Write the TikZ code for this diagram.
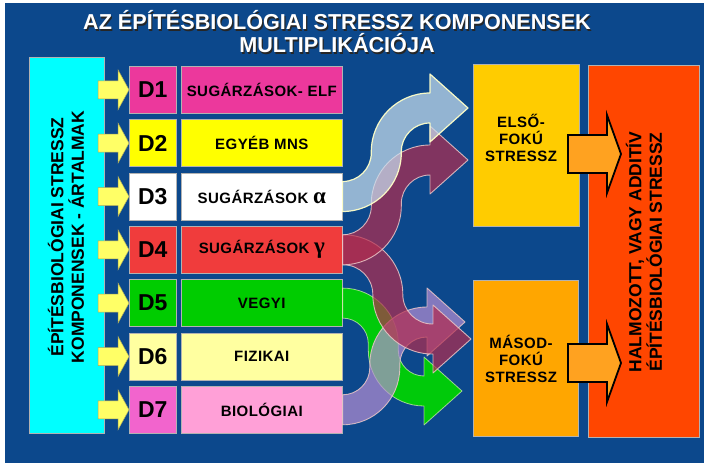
\documentclass[tikz,border=0pt]{standalone}
\usepackage{fontspec}
\setmainfont{Liberation Sans}
\newfontfamily\grk{Liberation Serif}
\newfontfamily\spaced[LetterSpace=3]{Liberation Sans}
\usetikzlibrary{calc}
\definecolor{bgblue}{RGB}{12,72,140}
\definecolor{cyanbox}{RGB}{0,255,255}
\definecolor{pinkA}{RGB}{236,56,156}
\definecolor{yelA}{RGB}{255,255,0}
\definecolor{redA}{RGB}{240,60,60}
\definecolor{greenA}{RGB}{0,204,0}
\definecolor{paleY}{RGB}{255,255,160}
\definecolor{magA}{RGB}{242,100,205}
\definecolor{pinkB}{RGB}{255,160,215}
\definecolor{goldA}{RGB}{255,204,0}
\definecolor{orangeA}{RGB}{255,166,0}
\definecolor{redOr}{RGB}{255,70,0}
\definecolor{arrOr}{RGB}{255,162,32}
\definecolor{smallY}{RGB}{255,255,102}
\definecolor{lblue}{RGB}{200,222,238}
\definecolor{maroon}{RGB}{180,44,78}
\definecolor{lav}{RGB}{182,142,212}
\definecolor{grArr}{RGB}{0,214,0}
\definecolor{edgeY}{RGB}{255,255,200}
\definecolor{edgeP}{RGB}{235,200,200}
\def\SA{15}\def\SH{34}\def\SL{38}\def\Kk{0.5523}
\newcommand\sarrow[3]{%
  \path #1; \pgfgetlastxy{\sxa}{\sya}%
  \path #2; \pgfgetlastxy{\sxb}{\syb}%
  \pgfmathsetmacro\Xa{\sxa}%
  \pgfmathsetmacro\Ya{0-(\sya)}%
  \pgfmathsetmacro\Xb{\sxb}%
  \pgfmathsetmacro\Yb{0-(\syb)}%
  \pgfmathsetmacro\Xm{(\Xa+\Xb)/2}%
  \pgfmathsetmacro\Sg{(\Yb>\Ya)?1:-1}%
  \pgfmathsetmacro\Rr{min(\Xb-\Xa,abs(\Yb-\Ya))/2}%
  \pgfmathsetmacro\XL{\Xm-\Rr}%
  \pgfmathsetmacro\XR{\Xm+\Rr}%
  \pgfmathsetmacro\YaS{\Ya+(\Sg)*\Rr}%
  \pgfmathsetmacro\YbS{\Yb-(\Sg)*\Rr}%
  \pgfmathsetmacro\uX{\Xm+(\Sg)*\SA}%
  \pgfmathsetmacro\lX{\Xm-(\Sg)*\SA}%
  \pgfmathsetmacro\uRa{\Rr+(\Sg)*\SA}%
  \pgfmathsetmacro\uRb{\Rr-(\Sg)*\SA}%
  \pgfmathsetmacro\lRa{\Rr-(\Sg)*\SA}%
  \pgfmathsetmacro\lRb{\Rr+(\Sg)*\SA}%
  \pgfmathsetmacro\uAc{\XL+\Kk*\uRa}%
  \pgfmathsetmacro\uBc{\YaS-(\Sg)*\Kk*\uRa}%
  \pgfmathsetmacro\uCc{\YbS+(\Sg)*\Kk*\uRb}%
  \pgfmathsetmacro\uDc{\XR-\Kk*\uRb}%
  \pgfmathsetmacro\lAc{\XL+\Kk*\lRa}%
  \pgfmathsetmacro\lBc{\YaS-(\Sg)*\Kk*\lRa}%
  \pgfmathsetmacro\lCc{\YbS+(\Sg)*\Kk*\lRb}%
  \pgfmathsetmacro\lDc{\XR-\Kk*\lRb}%
  \pgfmathsetmacro\yU{\Ya-\SA}%
  \pgfmathsetmacro\yL{\Ya+\SA}%
  \pgfmathsetmacro\zU{\Yb-\SA}%
  \pgfmathsetmacro\zL{\Yb+\SA}%
  \pgfmathsetmacro\zHU{\Yb-\SH}%
  \pgfmathsetmacro\zHL{\Yb+\SH}%
  \pgfmathsetmacro\Xt{\Xb+\SL}%
  \path[#3] (\Xa,\yU) -- (\XL,\yU) .. controls (\uAc,\yU) and (\uX,\uBc) .. (\uX,\YaS)
    -- (\uX,\YbS) .. controls (\uX,\uCc) and (\uDc,\zU) .. (\XR,\zU) -- (\Xb,\zU)
    -- (\Xb,\zHU) -- (\Xt,\Yb) -- (\Xb,\zHL) -- (\Xb,\zL) -- (\XR,\zL)
    .. controls (\lDc,\zL) and (\lX,\lCc) .. (\lX,\YbS) -- (\lX,\YaS)
    .. controls (\lX,\lBc) and (\lAc,\yL) .. (\XL,\yL) -- (\Xa,\yL) -- cycle;
}
\begin{document}
\begin{tikzpicture}[x=1pt,y=-1pt,
  box/.style={draw=gray!60, line width=0.6pt, inner sep=0pt, anchor=north west, text=black},
  dbox/.style={box, minimum width=47pt, minimum height=47pt, font=\bfseries\fontsize{23}{23}\selectfont},
  lbox/.style={box, minimum width=161pt, minimum height=47pt, font=\spaced\bfseries\fontsize{15}{17}\selectfont},
  ttl/.style={font=\bfseries\fontsize{21.6}{21.6}\selectfont, anchor=base, inner sep=0pt},
  vtxt/.style={font=\bfseries\fontsize{17.5}{20.5}\selectfont, align=center, rotate=90, inner sep=0pt, text=black},
  rtxt/.style={font=\spaced\bfseries\fontsize{15}{17}\selectfont, align=center, inner sep=0pt, text=black},
  yarr/.style={fill=smallY, draw=gray!40!yellow!80!black, line width=0.5pt, line join=miter},
  oarr/.style={fill=arrOr, draw=black, line width=1.8pt, line join=miter},
  carr/.style={line width=1.2pt, line join=round},
  arrB/.style={carr, fill=lblue, fill opacity=0.72, draw=edgeY, draw opacity=0.95},
  arrM/.style={carr, fill=maroon, fill opacity=0.7, draw=edgeP, draw opacity=0.85, line width=0.9pt},
  arrL/.style={carr, fill=lav, fill opacity=0.7, draw=edgeP, draw opacity=0.85, line width=0.9pt},
  arrG/.style={carr, fill=grArr, fill opacity=0.92, draw=edgeY, draw opacity=0.6, line width=0.8pt}
]
\useasboundingbox (0,0) rectangle (704,468);
\fill[white] (0,0) rectangle (704,468);
\fill[bgblue] (5,3) rectangle (704,463);

% title
\node[ttl, text=black!85] (t1s) at (338.2,31.2) {AZ ÉPÍTÉSBIOLÓGIAI STRESSZ KOMPONENSEK};
\node[ttl, text=white] (t1) at (337,30) {AZ ÉPÍTÉSBIOLÓGIAI STRESSZ KOMPONENSEK};
\node[ttl, text=black!85] (t2s) at (338.2,54.2) {MULTIPLIKÁCIÓJA};
\node[ttl, text=white] (t2) at (337,53) {MULTIPLIKÁCIÓJA};

% left cyan box
\node[box, fill=cyanbox, minimum width=75pt, minimum height=376pt] (cyan) at (29,57) {};
\node[vtxt] (cyant) at (66,237) {ÉPÍTÉSBIOLÓGIAI STRESSZ\\KOMPONENSEK - ÁRTALMAK};

% rows
\node[dbox, fill=pinkA] (d1) at (129,66) {D1};
\node[lbox, fill=pinkA] (l1) at (181,66) {SUGÁRZÁSOK- ELF};
\node[dbox, fill=yelA] (d2) at (129,119.3) {D2};
\node[lbox, fill=yelA] (l2) at (181,119.3) {EGYÉB MNS};
\node[dbox, fill=white] (d3) at (129,172.7) {D3};
\node[lbox, fill=white] (l3) at (181,172.7) {SUGÁRZÁSOK {\grk\fontsize{23}{23}\selectfont α}};
\node[dbox, fill=redA] (d4) at (129,226) {D4};
\node[lbox, fill=redA] (l4) at (181,226) {SUGÁRZÁSOK {\grk\fontsize{23}{23}\selectfont γ}};
\node[dbox, fill=greenA] (d5) at (129,279.3) {D5};
\node[lbox, fill=greenA] (l5) at (181,279.3) {VEGYI};
\node[dbox, fill=paleY] (d6) at (129,332.7) {D6};
\node[lbox, fill=paleY] (l6) at (181,332.7) {FIZIKAI};
\node[dbox, fill=magA] (d7) at (129,386) {D7};
\node[lbox, fill=pinkB] (l7) at (181,386) {BIOLÓGIAI};

% small yellow arrows
\foreach \i in {1,...,7}{
  \draw[yarr] (d\i.west) -- ++(-11,-20) -- ++(0,11) -- ++(-20,0) -- ++(0,18) -- ++(20,0) -- ++(0,11) -- cycle;
}

% right boxes
\node[box, fill=goldA, minimum width=106pt, minimum height=162pt] (e1) at (473,64) {};
\node[rtxt] (e1t) at (521,138) {ELSŐ-\\FOKÚ\\STRESSZ};
\node[box, fill=orangeA, minimum width=105pt, minimum height=156pt] (e2) at (473,280) {};
\node[rtxt] (e2t) at (521,358.5) {MÁSOD-\\FOKÚ\\STRESSZ};
\node[box, fill=redOr, minimum width=111pt, minimum height=372pt] (rb) at (588,65) {};
\node[vtxt] (rbt) at (644,252) {HALMOZOTT, VAGY ADDITÍV\\ÉPÍTÉSBIOLÓGIAI STRESSZ};

% orange arrows
\coordinate (o1) at (568,154);
\coordinate (o2) at (568,363);
\foreach \c in {o1,o2}{
  \draw[oarr] (\c) -- ++(0,-19) -- ++(39,0) -- ++(0,-20) -- ++(14,39) -- ++(-14,39) -- ++(0,-20) -- ++(-39,0) -- cycle;
}

% curved arrows
\coordinate (hB) at (430,108);
\coordinate (hMu) at (430,160);
\coordinate (hMd) at (433,339);
\coordinate (hG) at (424,391);
\coordinate (hL) at (427,322);
\sarrow{(l5.east)}{(hG)}{arrG}
\sarrow{(l7.east)}{(hL)}{arrL}
\sarrow{(l4.east)}{(hMd)}{arrM}
\sarrow{(l4.east)}{(hMu)}{arrM}
\sarrow{(l3.east)}{(hB)}{arrB}
\end{tikzpicture}
\end{document}
